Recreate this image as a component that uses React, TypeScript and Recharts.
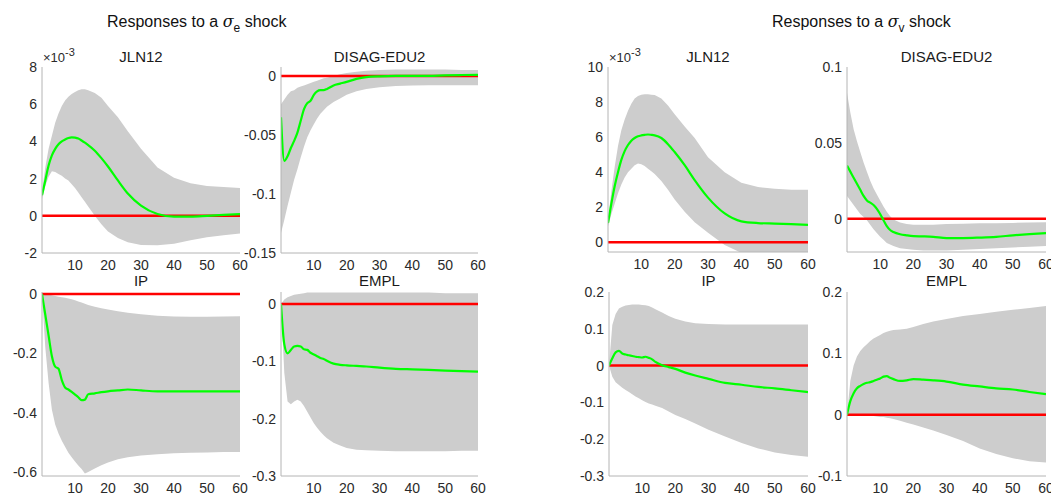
import React from 'react';
import { ComposedChart, Area, Line, XAxis, YAxis, ReferenceLine } from 'recharts';

// Horizons (periods after the shock)
const PERIODS = [0, 1, 2, 3, 4, 5, 6, 7, 8, 9, 10, 11, 12, 13, 14, 16, 18, 20, 23, 26, 30, 35, 40, 45, 50, 55, 60];
const X_TICKS = [10, 20, 30, 40, 50, 60];

// ---- Responses to a sigma_e shock ----
// JLN12 (in units of 1e-3)
const E_JLN12_IRF = [1.1, 1.9, 2.7, 3.25, 3.6, 3.85, 4.0, 4.1, 4.18, 4.22, 4.2, 4.15, 4.05, 3.93, 3.8, 3.5, 3.1, 2.65, 1.9, 1.2, 0.55, 0.1, -0.04, -0.04, 0.0, 0.05, 0.09];
const E_JLN12_HI = [1.3, 2.6, 3.6, 4.3, 5.0, 5.5, 5.9, 6.2, 6.4, 6.55, 6.65, 6.75, 6.8, 6.8, 6.75, 6.6, 6.35, 5.9, 5.3, 4.55, 3.6, 2.6, 2.05, 1.75, 1.6, 1.55, 1.5];
const E_JLN12_LO = [0.9, 1.6, 2.1, 2.4, 2.35, 2.25, 2.15, 2.0, 1.9, 1.7, 1.5, 1.25, 1.0, 0.75, 0.5, 0.0, -0.45, -0.85, -1.2, -1.42, -1.57, -1.58, -1.5, -1.32, -1.15, -1.05, -0.95];
// DISAG-EDU2
const E_EDU2_IRF = [-0.035, -0.072, -0.068, -0.061, -0.055, -0.048, -0.038, -0.028, -0.023, -0.021, -0.016, -0.013, -0.012, -0.012, -0.011, -0.008, -0.0065, -0.005, -0.0025, -0.001, -0.0003, 0, 0, 0, 0.0005, 0.0008, 0.001];
const E_EDU2_HI = [-0.024, -0.02, -0.016, -0.013, -0.012, -0.01, -0.009, -0.008, -0.007, -0.006, -0.005, -0.004, -0.003, -0.002, -0.0015, 0, 0.0015, 0.0025, 0.0035, 0.0045, 0.005, 0.0055, 0.0055, 0.0055, 0.0055, 0.005, 0.005];
const E_EDU2_LO = [-0.133, -0.122, -0.11, -0.099, -0.088, -0.079, -0.069, -0.06, -0.052, -0.046, -0.041, -0.036, -0.032, -0.029, -0.026, -0.022, -0.019, -0.016, -0.013, -0.011, -0.0095, -0.0085, -0.008, -0.0078, -0.0078, -0.0078, -0.0078];
// IP
const E_IP_IRF = [0, -0.07, -0.14, -0.21, -0.245, -0.252, -0.29, -0.315, -0.322, -0.33, -0.339, -0.348, -0.358, -0.356, -0.338, -0.335, -0.331, -0.328, -0.325, -0.322, -0.325, -0.328, -0.328, -0.328, -0.328, -0.328, -0.328];
const E_IP_HI = [0, -0.001, -0.002, -0.004, -0.007, -0.009, -0.011, -0.013, -0.015, -0.018, -0.021, -0.025, -0.029, -0.033, -0.037, -0.043, -0.048, -0.052, -0.058, -0.063, -0.068, -0.073, -0.076, -0.077, -0.077, -0.076, -0.075];
const E_IP_LO = [0, -0.18, -0.3, -0.39, -0.44, -0.47, -0.495, -0.515, -0.535, -0.55, -0.565, -0.578, -0.59, -0.605, -0.6, -0.588, -0.577, -0.568, -0.557, -0.55, -0.544, -0.54, -0.537, -0.535, -0.534, -0.533, -0.533];
// EMPL
const E_EMPL_IRF = [0, -0.07, -0.086, -0.08, -0.074, -0.073, -0.074, -0.079, -0.08, -0.085, -0.088, -0.091, -0.094, -0.096, -0.099, -0.104, -0.106, -0.107, -0.108, -0.109, -0.111, -0.113, -0.114, -0.115, -0.116, -0.117, -0.118];
const E_EMPL_HI = [0, 0.008, 0.012, 0.014, 0.016, 0.017, 0.018, 0.019, 0.02, 0.02, 0.02, 0.02, 0.02, 0.02, 0.02, 0.02, 0.02, 0.02, 0.02, 0.02, 0.02, 0.02, 0.02, 0.02, 0.019, 0.019, 0.019];
const E_EMPL_LO = [0, -0.12, -0.17, -0.175, -0.17, -0.167, -0.17, -0.178, -0.188, -0.198, -0.208, -0.216, -0.223, -0.229, -0.234, -0.242, -0.247, -0.251, -0.254, -0.255, -0.256, -0.257, -0.257, -0.257, -0.257, -0.256, -0.256];

// ---- Responses to a sigma_v shock ----
// JLN12 (in units of 1e-3)
const V_JLN12_IRF = [1.1, 2.2, 3.2, 4.0, 4.7, 5.2, 5.55, 5.8, 5.95, 6.05, 6.1, 6.13, 6.15, 6.13, 6.1, 5.95, 5.6, 5.15, 4.4, 3.55, 2.55, 1.65, 1.2, 1.1, 1.07, 1.04, 1.0];
const V_JLN12_HI = [1.3, 2.9, 4.3, 5.5, 6.4, 7.0, 7.5, 7.9, 8.2, 8.35, 8.42, 8.45, 8.45, 8.42, 8.4, 8.2, 7.8, 7.3, 6.6, 5.95, 4.85, 4.0, 3.4, 3.15, 3.05, 3.0, 3.0];
const V_JLN12_LO = [0.9, 1.6, 2.2, 2.8, 3.3, 3.7, 4.0, 4.2, 4.4, 4.5, 4.45, 4.35, 4.2, 4.05, 3.9, 3.5, 3.0, 2.45, 1.75, 1.15, 0.55, -0.15, -0.6, -0.8, -0.9, -0.95, -1.0];
// DISAG-EDU2
const V_EDU2_IRF = [0.035, 0.031, 0.027, 0.023, 0.019, 0.015, 0.012, 0.0105, 0.009, 0.0065, 0.003, -0.001, -0.005, -0.0075, -0.0088, -0.0103, -0.011, -0.0115, -0.0117, -0.012, -0.0128, -0.0128, -0.0125, -0.012, -0.011, -0.0102, -0.0095];
const V_EDU2_HI = [0.083, 0.07, 0.059, 0.051, 0.044, 0.037, 0.031, 0.025, 0.02, 0.016, 0.012, 0.008, 0.0045, 0.0015, -0.0005, -0.0025, -0.0035, -0.004, -0.004, -0.004, -0.0035, -0.0033, -0.003, -0.003, -0.0028, -0.0025, -0.0024];
const V_EDU2_LO = [0.015, 0.012, 0.009, 0.006, 0.003, 0.001, -0.001, -0.004, -0.007, -0.0095, -0.012, -0.014, -0.016, -0.017, -0.018, -0.0195, -0.02, -0.0205, -0.021, -0.021, -0.021, -0.0205, -0.02, -0.0195, -0.019, -0.0185, -0.018];
// IP
const V_IP_IRF = [0, 0.02, 0.036, 0.04, 0.033, 0.03, 0.028, 0.026, 0.024, 0.023, 0.022, 0.024, 0.021, 0.017, 0.01, 0.001, -0.004, -0.009, -0.019, -0.027, -0.036, -0.047, -0.052, -0.058, -0.062, -0.067, -0.072];
const V_IP_HI = [0, 0.11, 0.14, 0.155, 0.16, 0.163, 0.165, 0.166, 0.166, 0.166, 0.165, 0.164, 0.162, 0.158, 0.153, 0.144, 0.135, 0.127, 0.12, 0.115, 0.113, 0.112, 0.112, 0.112, 0.112, 0.112, 0.112];
const V_IP_LO = [0, -0.03, -0.045, -0.053, -0.06, -0.066, -0.072, -0.078, -0.084, -0.089, -0.094, -0.099, -0.103, -0.106, -0.109, -0.115, -0.125, -0.134, -0.145, -0.157, -0.174, -0.193, -0.21, -0.225, -0.236, -0.243, -0.248];
// EMPL
const V_EMPL_IRF = [0, 0.022, 0.035, 0.043, 0.047, 0.05, 0.052, 0.053, 0.055, 0.057, 0.059, 0.062, 0.063, 0.06, 0.058, 0.055, 0.056, 0.058, 0.057, 0.056, 0.054, 0.049, 0.046, 0.043, 0.041, 0.037, 0.0335];
const V_EMPL_HI = [0, 0.055, 0.08, 0.095, 0.104, 0.11, 0.115, 0.12, 0.124, 0.127, 0.13, 0.133, 0.135, 0.137, 0.138, 0.139, 0.14, 0.143, 0.148, 0.152, 0.156, 0.161, 0.164, 0.168, 0.171, 0.174, 0.177];
const V_EMPL_LO = [0, 0, 0, 0, -0.001, -0.001, -0.001, -0.002, -0.002, -0.003, -0.004, -0.004, -0.005, -0.006, -0.007, -0.01, -0.013, -0.016, -0.021, -0.026, -0.033, -0.043, -0.055, -0.064, -0.071, -0.076, -0.078];

// Y tick labels
const TICKS_JLN_E = [-2, 0, 2, 4, 6, 8];
const TICKS_EDU2_E = [-0.15, -0.1, -0.05, 0];
const TICKS_IP_E = [-0.6, -0.4, -0.2, 0];
const TICKS_EMPL_E = [-0.3, -0.2, -0.1, 0];
const TICKS_JLN_V = [0, 2, 4, 6, 8, 10];
const TICKS_EDU2_V = [0, 0.05, 0.1];
const TICKS_IP_V = [-0.3, -0.2, -0.1, 0, 0.1, 0.2];
const TICKS_EMPL_V = [-0.1, 0, 0.1, 0.2];

const FONT = '"Liberation Sans", Arial, Helvetica, sans-serif';
const AXIS = '#b4b4b4';
const TXT = '#2a2a2a';
const BAND = '#cdcdcd';
const GREEN = '#00ff00';
const RED = '#ff0000';

const ML = 60;
const MR = 16;
const MT = 12;
const XH = 30;

function build(irf: number[], lo: number[], hi: number[]) {
  return PERIODS.map((t, i) => ({ t, band: [lo[i], hi[i]], irf: irf[i] }));
}

type PanelProps = {
  x0: number; x1: number; y0: number; y1: number;
  domain: [number, number]; ticks: number[];
  irf: number[]; lo: number[]; hi: number[];
  title: string; titleY: number; exponent?: boolean;
};

function Panel(p: PanelProps) {
  const W = p.x1 - p.x0;
  const H = p.y1 - p.y0;
  const data = build(p.irf, p.lo, p.hi);
  return (
    <>
      <div style={{ position: 'absolute', left: p.x0 - ML, top: p.y0 - MT }}>
        <ComposedChart width={W + ML + MR} height={H + MT + XH} data={data}
          margin={{ top: MT, right: MR, bottom: 0, left: 0 }}>
          <XAxis dataKey="t" type="number" domain={[0, 60]} ticks={X_TICKS} interval={0}
            allowDataOverflow height={XH} axisLine={{ stroke: AXIS }} tickLine={false}
            tickSize={4} tickMargin={3}
            tick={{ fill: TXT, fontSize: 14, fontFamily: FONT }} />
          <YAxis type="number" domain={p.domain} ticks={p.ticks} interval={0}
            allowDataOverflow width={ML} axisLine={{ stroke: AXIS }} tickLine={false}
            tickSize={4} tickMargin={1}
            tick={{ fill: TXT, fontSize: 14, fontFamily: FONT }} />
          <Area type="linear" dataKey="band" stroke="none" fill={BAND} fillOpacity={1}
            isAnimationActive={false} dot={false} activeDot={false} />
          <ReferenceLine y={0} stroke={RED} strokeWidth={2.5} />
          <Line type="monotone" dataKey="irf" stroke={GREEN} strokeWidth={2.2} dot={false}
            activeDot={false} isAnimationActive={false} />
        </ComposedChart>
      </div>
      <div style={{
        position: 'absolute', left: p.x0, width: W, top: p.titleY - 9, textAlign: 'center',
        fontSize: 15, color: '#1a1a1a', fontFamily: FONT, lineHeight: '18px', whiteSpace: 'nowrap'
      }}>{p.title}</div>
      {p.exponent ? (
        <div style={{
          position: 'absolute', left: p.x0 + 1, top: 50, fontSize: 13, color: TXT,
          fontFamily: FONT, lineHeight: '16px', whiteSpace: 'nowrap'
        }}>
          ×10<span style={{ position: 'relative', top: -6, fontSize: 11 }}>-3</span>
        </div>
      ) : null}
    </>
  );
}

function GroupTitle({ left, sub }: { left: number; sub: string }) {
  return (
    <div style={{
      position: 'absolute', left, top: 12, fontSize: 16, color: '#111', fontFamily: FONT,
      lineHeight: '20px', whiteSpace: 'nowrap'
    }}>
      Responses to a <span style={{ fontFamily: '"DejaVu Serif", "Liberation Serif", serif', fontStyle: 'italic' }}>σ</span>
      <span style={{ position: 'relative', top: 5, fontSize: 12 }}>{sub}</span> shock
    </div>
  );
}

export default function App() {
  return (
    <div style={{
      position: 'absolute', left: 0, top: 0, width: 1051, height: 501, background: '#ffffff',
      fontFamily: FONT, overflow: 'hidden'
    }}>
      <GroupTitle left={107} sub="e" />
      <GroupTitle left={772} sub="v" />

      <Panel x0={42} x1={240} y0={67} y1={253} domain={[-2, 8]} ticks={TICKS_JLN_E}
        irf={E_JLN12_IRF} lo={E_JLN12_LO} hi={E_JLN12_HI} title="JLN12" titleY={57} exponent />
      <Panel x0={281} x1={478} y0={67} y1={253} domain={[-0.15, 0.0076]} ticks={TICKS_EDU2_E}
        irf={E_EDU2_IRF} lo={E_EDU2_LO} hi={E_EDU2_HI} title="DISAG-EDU2" titleY={57} />
      <Panel x0={42} x1={240} y0={292} y1={476} domain={[-0.6135, 0.0067]} ticks={TICKS_IP_E}
        irf={E_IP_IRF} lo={E_IP_LO} hi={E_IP_HI} title="IP" titleY={281} />
      <Panel x0={281} x1={478} y0={292} y1={476} domain={[-0.3, 0.021]} ticks={TICKS_EMPL_E}
        irf={E_EMPL_IRF} lo={E_EMPL_LO} hi={E_EMPL_HI} title="EMPL" titleY={281} />

      <Panel x0={608} x1={808} y0={67} y1={252} domain={[-0.55, 10]} ticks={TICKS_JLN_V}
        irf={V_JLN12_IRF} lo={V_JLN12_LO} hi={V_JLN12_HI} title="JLN12" titleY={57} exponent />
      <Panel x0={847} x1={1046} y0={67} y1={252} domain={[-0.022, 0.1]} ticks={TICKS_EDU2_V}
        irf={V_EDU2_IRF} lo={V_EDU2_LO} hi={V_EDU2_HI} title="DISAG-EDU2" titleY={57} />
      <Panel x0={609} x1={808} y0={292} y1={476} domain={[-0.3, 0.2]} ticks={TICKS_IP_V}
        irf={V_IP_IRF} lo={V_IP_LO} hi={V_IP_HI} title="IP" titleY={281} />
      <Panel x0={847} x1={1046} y0={292} y1={476} domain={[-0.1, 0.2]} ticks={TICKS_EMPL_V}
        irf={V_EMPL_IRF} lo={V_EMPL_LO} hi={V_EMPL_HI} title="EMPL" titleY={281} />
    </div>
  );
}
